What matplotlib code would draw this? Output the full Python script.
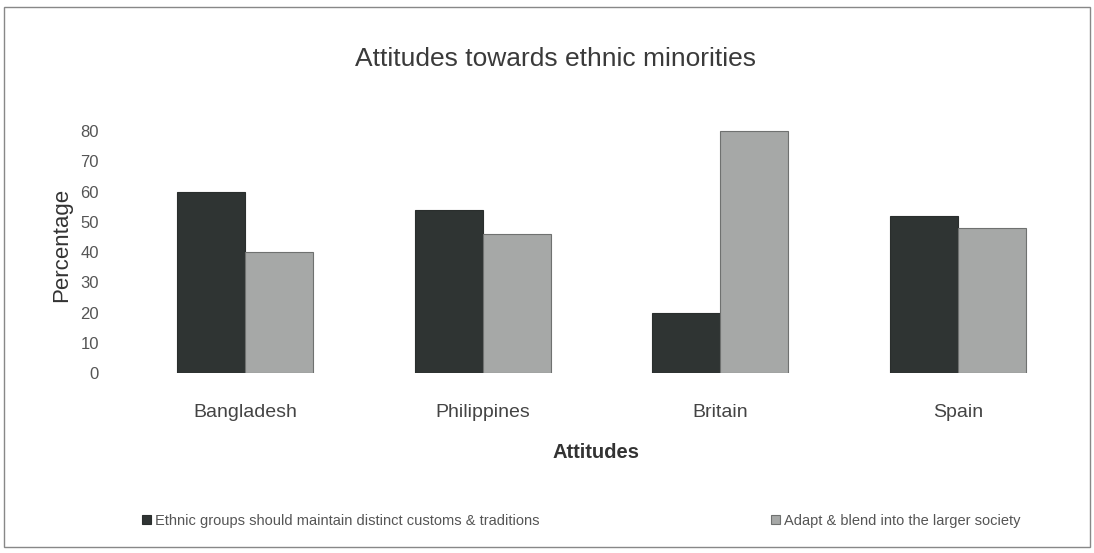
import numpy as np
import matplotlib
matplotlib.use("Agg")
import matplotlib.pyplot as plt
from matplotlib.patches import Rectangle

# survey results (percent)
countries = ["Bangladesh", "Philippines", "Britain", "Spain"]
maintain = [60, 54, 20, 52]
adapt = [40, 46, 80, 48]
series_names = ["Ethnic groups should maintain distinct customs & traditions",
                "Adapt & blend into the larger society"]
yticks = [0, 10, 20, 30, 40, 50, 60, 70, 80]

plt.rcParams['font.family'] = ['Liberation Sans', 'DejaVu Sans']

fig = plt.figure(figsize=(10.94, 5.53), dpi=100)
ax = fig.add_axes([0.1045, 0.3255, 0.88, 0.4645])

x = np.arange(len(countries))
w = 0.286
b1 = ax.bar(x - w / 2, maintain, w, color="#2f3433", edgecolor="#2a2e2d", linewidth=0.8)
b2 = ax.bar(x + w / 2, adapt, w, color="#a6a8a7", edgecolor="#6f7170", linewidth=0.8)

ax.set_xlim(-0.55, 3.5)
ax.set_ylim(0, 85)
ax.set_yticks(yticks)
ax.set_xticks(x)
ax.set_xticklabels(countries, fontsize=14, color="#444444")
ax.tick_params(axis="y", labelsize=12, labelcolor="#555555", length=0, pad=11)
ax.tick_params(axis="x", length=0, pad=22)
for s in ax.spines.values():
    s.set_visible(False)

ax.set_ylabel("Percentage", fontsize=16, color="#333333", labelpad=6)
ax.set_xlabel("Attitudes", fontsize=14.5, fontweight="bold", color="#333333", labelpad=16)

fig.text(0.508, 0.893, "Attitudes towards ethnic minorities", ha="center", va="center",
         fontsize=19, color="#3a3a3a")

# two legend entries spread along the bottom
leg1 = fig.legend([b1], [series_names[0]], loc="center left", bbox_to_anchor=(0.118, 0.058),
                  frameon=False, fontsize=10.5, handlelength=0.6, handleheight=0.6,
                  handletextpad=0.3, labelcolor="#555555")
leg2 = fig.legend([b2], [series_names[1]], loc="center left", bbox_to_anchor=(0.693, 0.058),
                  frameon=False, fontsize=10.5, handlelength=0.6, handleheight=0.6,
                  handletextpad=0.3, labelcolor="#555555")

# thin frame around the whole chart
fig.patches.append(Rectangle((0.004, 0.01), 0.992, 0.978, transform=fig.transFigure,
                             fill=False, edgecolor="#888888", linewidth=1.0))

fig.savefig("out.png", dpi=100)
